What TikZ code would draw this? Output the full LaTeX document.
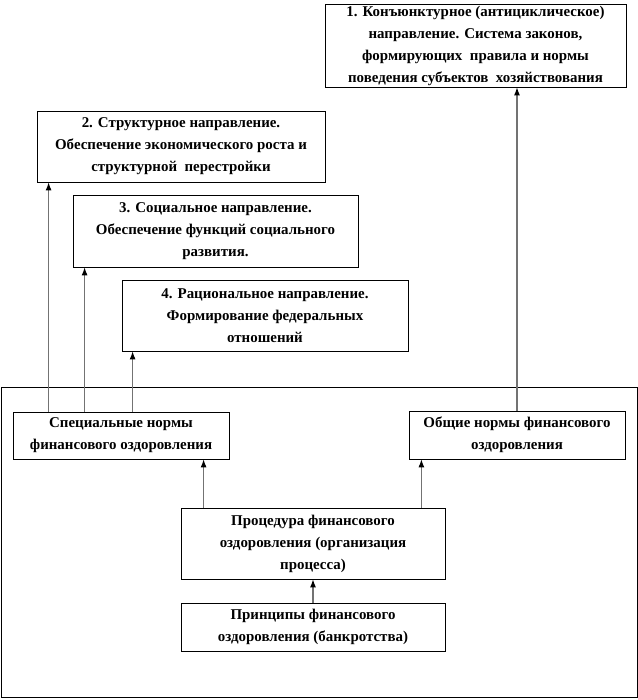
\documentclass[tikz,border=0pt]{standalone}
\usepackage{fontspec}
\setmainfont{Liberation Serif}
\usepackage{tikz}
\usetikzlibrary{arrows.meta}

\tikzset{
	blok/.style={rectangle,draw,line width=0.6pt,align=center,inner sep=0pt,
		font=\fontsize{11.2}{16.5}\selectfont\bfseries},
	arr/.style={-{Latex[length=6pt,width=4.5pt,color=black]},draw=black!55,line width=0.8pt},
}

\begin{document}
\begin{tikzpicture}[x=0.75pt,y=-0.75pt]
	\useasboundingbox (0,0) rectangle (638,700);
	% rama
	\draw[line width=0.6pt] (1,387) rectangle (637,697);
	% napravleniya
	\node[blok,minimum width=225.75pt,minimum height=62.25pt] (b1) at (475.5,45.5)
	{1. Конъюнктурное (антициклическое)\\ направление. Система законов,\\ формирующих\ \ правила и нормы\\ поведения субъектов\ \ хозяйствования};
	\node[blok,minimum width=216pt,minimum height=53.25pt] (b2) at (181,146.5)
	{2. Структурное направление.\\ Обеспечение экономического роста и\\ структурной\ \ перестройки};
	\node[blok,minimum width=213.75pt,minimum height=54pt] (b3) at (215.5,231)
	{3. Социальное направление.\\ Обеспечение функций социального\\ развития.};
	\node[blok,minimum width=214.5pt,minimum height=53.25pt] (b4) at (265,315.5)
	{4. Рациональное направление.\\ Формирование федеральных\\ отношений};
	% normy
	\node[blok,minimum width=162pt,minimum height=35.25pt] (spec) at (121,435.5)
	{Специальные нормы\\ финансового оздоровления};
	\node[blok,minimum width=162pt,minimum height=36pt] (gen) at (517,435)
	{Общие нормы финансового\\ оздоровления};
	\node[blok,minimum width=198pt,minimum height=53.25pt] (proc) at (313,543.5)
	{Процедура финансового\\ оздоровления (организация\\ процесса)};
	\node[blok,minimum width=198pt,minimum height=36pt] (princ) at (313,627)
	{Принципы финансового\\ оздоровления (банкротства)};
	% strelki
	\coordinate (s2) at ([xshift=27pt]spec.north west);
	\coordinate (s3) at ([xshift=54pt]spec.north west);
	\coordinate (s4) at ([xshift=90pt]spec.north west);
	\draw[arr] (s2) -- (s2 |- b2.south);
	\draw[arr] (s3) -- (s3 |- b3.south);
	\draw[arr] (s4) -- (s4 |- b4.south);
	\draw[arr] (gen.north) -- (gen.north |- b1.south);
	\coordinate (p1) at ([xshift=17.25pt]proc.north west);
	\coordinate (p2) at ([xshift=-18pt]proc.north east);
	\draw[arr] (p1) -- (p1 |- spec.south);
	\draw[arr] (p2) -- (p2 |- gen.south);
	\draw[arr] (princ.north) -- (proc.south);
\end{tikzpicture}
\end{document}
